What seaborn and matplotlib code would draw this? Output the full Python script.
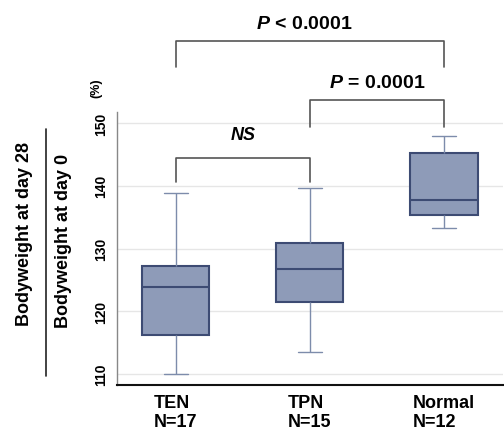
import matplotlib
matplotlib.use("Agg")
import matplotlib.pyplot as plt
import matplotlib.colors as mcolors
import seaborn as sns
import pandas as pd
import numpy as np

# five-number summaries: min, Q1, median, Q3, max
groups = ["TEN", "TPN", "Normal"]
group_labels = ["TEN\nN=17", "TPN\nN=15", "Normal\nN=12"]
ten_vals = [110.0, 116.2, 123.8, 127.2, 138.9]
tpn_vals = [113.5, 121.5, 126.7, 130.9, 139.6]
normal_vals = [133.2, 135.4, 137.8, 145.2, 147.9]
yticks = [110, 120, 130, 140, 150]

sns.set_style("white")
plt.rcParams["font.family"] = ["Liberation Sans", "DejaVu Sans"]
plt.rcParams["mathtext.fontset"] = "custom"
plt.rcParams["mathtext.it"] = "Liberation Sans:italic:bold"
plt.rcParams["mathtext.rm"] = "Liberation Sans:bold"
plt.rcParams["text.color"] = "black"
plt.rcParams["xtick.color"] = "black"
plt.rcParams["ytick.color"] = "black"

df = pd.DataFrame({
    "group": [groups[0]] * len(ten_vals) + [groups[1]] * len(tpn_vals) + [groups[2]] * len(normal_vals),
    "value": ten_vals + tpn_vals + normal_vals,
})

fig = plt.figure(figsize=(5.04, 4.31), dpi=100)
ax = fig.add_axes([0.232, 0.104, 0.766, 0.634])

box_face = "#8e9bb8"
box_edge = "#3d4b73"
whisk = "#7d8cab"

sns.boxplot(data=df, x="group", y="value", order=groups, whis=(0, 100), width=0.5,
            color=box_face, linecolor=box_edge, linewidth=1.5, saturation=1,
            boxprops=dict(facecolor=box_face, edgecolor=box_edge, linewidth=1.5),
            medianprops=dict(color=box_edge, linewidth=1.5),
            whiskerprops=dict(color=whisk, linewidth=1.0),
            capprops=dict(color=whisk, linewidth=1.0),
            showfliers=False, ax=ax)

# narrow the whisker caps (scale around their own centre)
whisk_rgba = mcolors.to_rgba(whisk)
for ln in ax.lines:
    xd = np.asarray(ln.get_xdata(), dtype=float)
    yd = np.asarray(ln.get_ydata(), dtype=float)
    if len(xd) == 2 and yd[0] == yd[1] and xd[0] != xd[1] and \
            np.allclose(mcolors.to_rgba(ln.get_color()), whisk_rgba):
        c = xd.mean()
        ln.set_xdata(c + (xd - c) * 0.7)

ax.set_xlim(-0.44, 2.44)
ax.set_ylim(108.25, 151.75)
ax.set_yticks(yticks)
ax.set_yticklabels([str(t) for t in yticks], rotation=90, va="center", fontsize=10, fontweight="bold")
ax.set_xticks(range(len(groups)))
ax.set_xticklabels(group_labels, fontsize=13, fontweight="bold", multialignment="left")
ax.tick_params(axis="both", length=0)
ax.tick_params(axis="y", pad=6)
ax.tick_params(axis="x", pad=6)
ax.set_xlabel("")
ax.set_ylabel("")
ax.yaxis.grid(True, color="#e6e6e6", linewidth=1)
ax.set_axisbelow(True)
for s in ["top", "right"]:
    ax.spines[s].set_visible(False)
ax.spines["left"].set_color("#888888")
ax.spines["left"].set_linewidth(1.0)
ax.spines["bottom"].set_color("#111111")
ax.spines["bottom"].set_linewidth(1.5)

br = "#555555"
def bracket(x0, x1, ytop, ybot):
    ax.plot([x0, x0, x1, x1], [ybot, ytop, ytop, ybot], color=br, lw=1.2, clip_on=False)

bracket(0, 2, 163.1, 158.9)
bracket(1, 2, 153.7, 149.4)
bracket(0, 1, 144.4, 140.6)

ax.text(0.96, 165.8, r"$\mathit{P}$ < 0.0001", ha="center", va="center", fontsize=14,
        fontweight="bold", clip_on=False)
ax.text(1.50, 156.4, r"$\mathit{P}$ = 0.0001", ha="center", va="center", fontsize=14,
        fontweight="bold", clip_on=False)
ax.text(0.50, 148.2, "NS", ha="center", va="center", fontsize=13, fontweight="bold",
        style="italic", clip_on=False)

# y axis label as a fraction
fig.text(25 / 504, 1 - 234 / 431, "Bodyweight at day 28", rotation=90, ha="center", va="center",
         fontsize=13, fontweight="bold")
fig.text(63 / 504, 1 - 241 / 431, "Bodyweight at day 0", rotation=90, ha="center", va="center",
         fontsize=13, fontweight="bold")
fig.add_artist(plt.Line2D([46 / 504, 46 / 504], [1 - 130 / 431, 1 - 377 / 431], color="#222222", lw=1.2))
fig.text(96 / 504, 1 - 88 / 431, "(%)", rotation=90, ha="center", va="center", fontsize=9,
         fontweight="bold")

fig.savefig("out.png", dpi=100)
